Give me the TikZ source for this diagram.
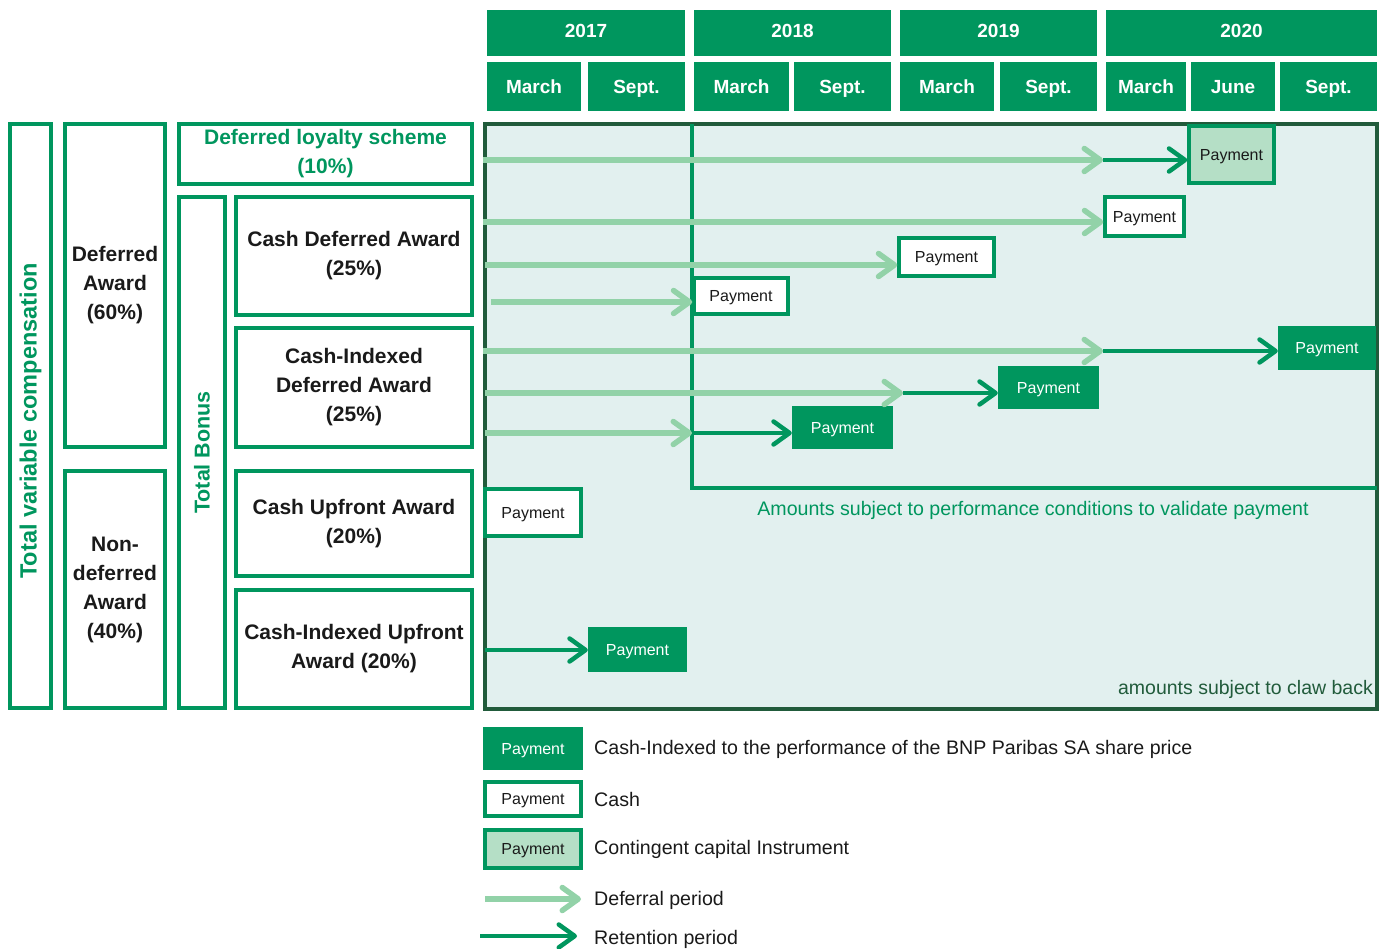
\documentclass[tikz,border=0pt]{standalone}
\usepackage{fontspec}
\setmainfont{Liberation Sans}
\usetikzlibrary{arrows.meta,calc}
\definecolor{bnpgreen}{HTML}{00965E}
\definecolor{lightarrow}{HTML}{92D2A8}
\definecolor{panelbg}{HTML}{E2F0EF}
\definecolor{darkgreen}{HTML}{215B3B}
\definecolor{contfill}{HTML}{B5DFC6}
\definecolor{txt}{HTML}{1A1A1A}
\begin{document}
\begin{tikzpicture}[x=1pt,y=-1pt,
  hdr/.style={fill=bnpgreen, text=white, font=\fontsize{19}{22}\selectfont\bfseries, inner sep=0pt, anchor=center, text height=13.7pt, text depth=0pt},
  yhdr/.style={hdr, text depth=5pt},
  lbox/.style={draw=bnpgreen, line width=4pt, fill=white, inner sep=0pt, align=center, text=txt, font=\fontsize{21}{29}\selectfont\bfseries},
  vlabel/.style={rotate=90, text=bnpgreen, font=\fontsize{23.5}{26}\selectfont\bfseries, inner sep=0pt},
  pay/.style={inner sep=0pt, font=\fontsize{16}{18}\selectfont, text=txt, text height=11.5pt, text depth=0pt},
  paycash/.style={pay, draw=bnpgreen, line width=3.5pt, fill=white},
  payidx/.style={pay, fill=bnpgreen, text=white},
  paycci/.style={pay, draw=bnpgreen, line width=3.5pt, fill=contfill},
  defer/.style={draw=lightarrow, line width=5.5pt, -{Straight Barb[length=16pt,width=23pt,round]}},
  retain/.style={draw=bnpgreen, line width=4.5pt, -{Straight Barb[length=16pt,width=23pt,round]}},
  legtext/.style={anchor=west, inner sep=0pt, text=txt, font=\fontsize{19.6}{22}\selectfont}
]
\useasboundingbox (0,0) rectangle (1388,949);

% ---- header: years
\node[yhdr, minimum width=198pt, minimum height=46pt] (y2017) at (586,33) {2017};
\node[yhdr, minimum width=197pt, minimum height=46pt] (y2018) at (792.5,33) {2018};
\node[yhdr, minimum width=197pt, minimum height=46pt] (y2019) at (998.5,33) {2019};
\node[yhdr, minimum width=271pt, minimum height=46pt] (y2020) at (1241.5,33) {2020};
% ---- header: months
\node[hdr, minimum width=94pt, minimum height=49pt] (m17) at (534,86.5) {March};
\node[hdr, minimum width=97pt, minimum height=49pt] (s17) at (636.5,86.5) {Sept.};
\node[hdr, minimum width=95pt, minimum height=49pt] (m18) at (741.5,86.5) {March};
\node[hdr, minimum width=97pt, minimum height=49pt] (s18) at (842.5,86.5) {Sept.};
\node[hdr, minimum width=94pt, minimum height=49pt] (m19) at (947,86.5) {March};
\node[hdr, minimum width=97pt, minimum height=49pt] (s19) at (1048.5,86.5) {Sept.};
\node[hdr, minimum width=80pt, minimum height=49pt] (m20) at (1146,86.5) {March};
\node[hdr, minimum width=84pt, minimum height=49pt] (j20) at (1233,86.5) {June};
\node[hdr, minimum width=97pt, minimum height=49pt] (s20) at (1328.5,86.5) {Sept.};

% ---- left boxes
\node[lbox, minimum width=41pt, minimum height=584pt] (tvc) at (30.5,416) {};
\node[vlabel] (tvclabel) at ($(tvc.center)+(0,5)$) {Total variable compensation};
\node[lbox, minimum width=100pt, minimum height=323pt] (defaward) at (115,285.5) {Deferred\\Award\\(60\%)};
\node[lbox, minimum width=100pt, minimum height=237pt] (nondef) at (115,589.5) {Non-\\deferred\\Award\\(40\%)};
\node[lbox, minimum width=293pt, minimum height=60pt, text=bnpgreen] (loyalty) at (325.5,154) {Deferred loyalty scheme\\(10\%)};
\node[lbox, minimum width=46pt, minimum height=511pt] (tbonus) at (202,452.5) {};
\node[vlabel, font=\fontsize{21.5}{26}\selectfont\bfseries] (tbonuslabel) at (tbonus.center) {Total Bonus};
\node[lbox, minimum width=236pt, minimum height=118pt] (cda) at (354,256) {Cash Deferred Award\\(25\%)};
\node[lbox, minimum width=236pt, minimum height=119pt] (cida) at (354,387.5) {Cash-Indexed\\Deferred Award\\(25\%)};
\node[lbox, minimum width=236pt, minimum height=105pt] (cua) at (354,523.5) {Cash Upfront Award\\(20\%)};
\node[lbox, minimum width=236pt, minimum height=118pt] (ciua) at (354,649) {Cash-Indexed Upfront\\Award (20\%)};

% ---- timeline panel
\node[draw=darkgreen, line width=4pt, fill=panelbg, minimum width=892pt, minimum height=585pt, inner sep=0pt] (panel) at (931,416.5) {};
\coordinate (perfTop) at (692,124);
\coordinate (perfCorner) at (692,488);
\coordinate (perfRight) at (1377,488);
\draw[bnpgreen, line width=3.5pt] (perfTop) -- (perfCorner) -- (perfRight);
\node[text=bnpgreen, inner sep=0pt, font=\fontsize{19.6}{22}\selectfont] (perflabel) at (1033,510) {Amounts subject to performance conditions to validate payment};
\node[text=darkgreen, anchor=east, inner sep=0pt, font=\fontsize{19.5}{22}\selectfont] (claw) at (1373,689) {amounts subject to claw back};

% ---- payment boxes
\node[paycci, minimum width=85pt, minimum height=57pt] (p1) at (1231.5,154.5) {Payment};
\node[paycash, minimum width=79pt, minimum height=39pt] (p2) at (1144.5,216.5) {Payment};
\node[paycash, minimum width=95pt, minimum height=38pt] (p3) at (946.5,257) {Payment};
\node[paycash, minimum width=94pt, minimum height=36pt] (p4) at (741,296) {Payment};
\node[payidx, minimum width=98pt, minimum height=44pt] (p5) at (1327,348) {Payment};
\node[payidx, minimum width=101pt, minimum height=43pt] (p6) at (1048.5,387.5) {Payment};
\node[payidx, minimum width=101pt, minimum height=43pt] (p7) at (842.5,427.5) {Payment};
\node[paycash, minimum width=96pt, minimum height=47pt] (p8) at (533,512.5) {Payment};
\node[payidx, minimum width=99pt, minimum height=45pt] (p9) at (637.5,649.5) {Payment};

% ---- arrows
\coordinate (a1) at (483,160); \coordinate (b1) at (1103,160);
\draw[defer] (a1) -- (b1);
\draw[retain] (b1) -- (b1 -| p1.west);
\coordinate (a2) at (483,222);
\draw[defer] (a2) -- (a2 -| p2.west);
\coordinate (a3) at (485,265);
\draw[defer] (a3) -- (a3 -| p3.west);
\coordinate (a4) at (491,302);
\draw[defer] (a4) -- (a4 -| p4.west);
\coordinate (a5) at (483,351); \coordinate (b5) at (1103,351);
\draw[defer] (a5) -- (b5);
\draw[retain] (b5) -- (b5 -| p5.west);
\coordinate (a6) at (485,393); \coordinate (b6) at (903,393);
\draw[defer] (a6) -- (b6);
\draw[retain] (b6) -- (b6 -| p6.west);
\coordinate (a7) at (485,433); \coordinate (b7) at (692,433);
\draw[defer] (a7) -- (b7);
\draw[retain] (b7) -- (b7 -| p7.west);
\coordinate (a9) at (485,650);
\draw[retain] (a9) -- (a9 -| p9.west);

% ---- legend
\node[payidx, minimum width=100pt, minimum height=43pt] (lg1) at (533,748.5) {Payment};
\node[legtext] (lg1t) at (594,749) {Cash-Indexed to the performance of the BNP Paribas SA share price};
\node[paycash, minimum width=96pt, minimum height=34pt] (lg2) at (533,799) {Payment};
\node[legtext] (lg2t) at (594,799) {Cash};
\node[paycci, minimum width=96pt, minimum height=38pt] (lg3) at (533,849) {Payment};
\node[legtext] (lg3t) at (594,849) {Contingent capital Instrument};
\coordinate (lg4s) at (485,899); \coordinate (lg4e) at (581,899);
\draw[defer] (lg4s) -- (lg4e);
\node[legtext] (lg4t) at (594,900) {Deferral period};
\coordinate (lg5s) at (480,936); \coordinate (lg5e) at (577,936);
\draw[retain] (lg5s) -- (lg5e);
\node[legtext] (lg5t) at (594,939) {Retention period};
\end{tikzpicture}
\end{document}
